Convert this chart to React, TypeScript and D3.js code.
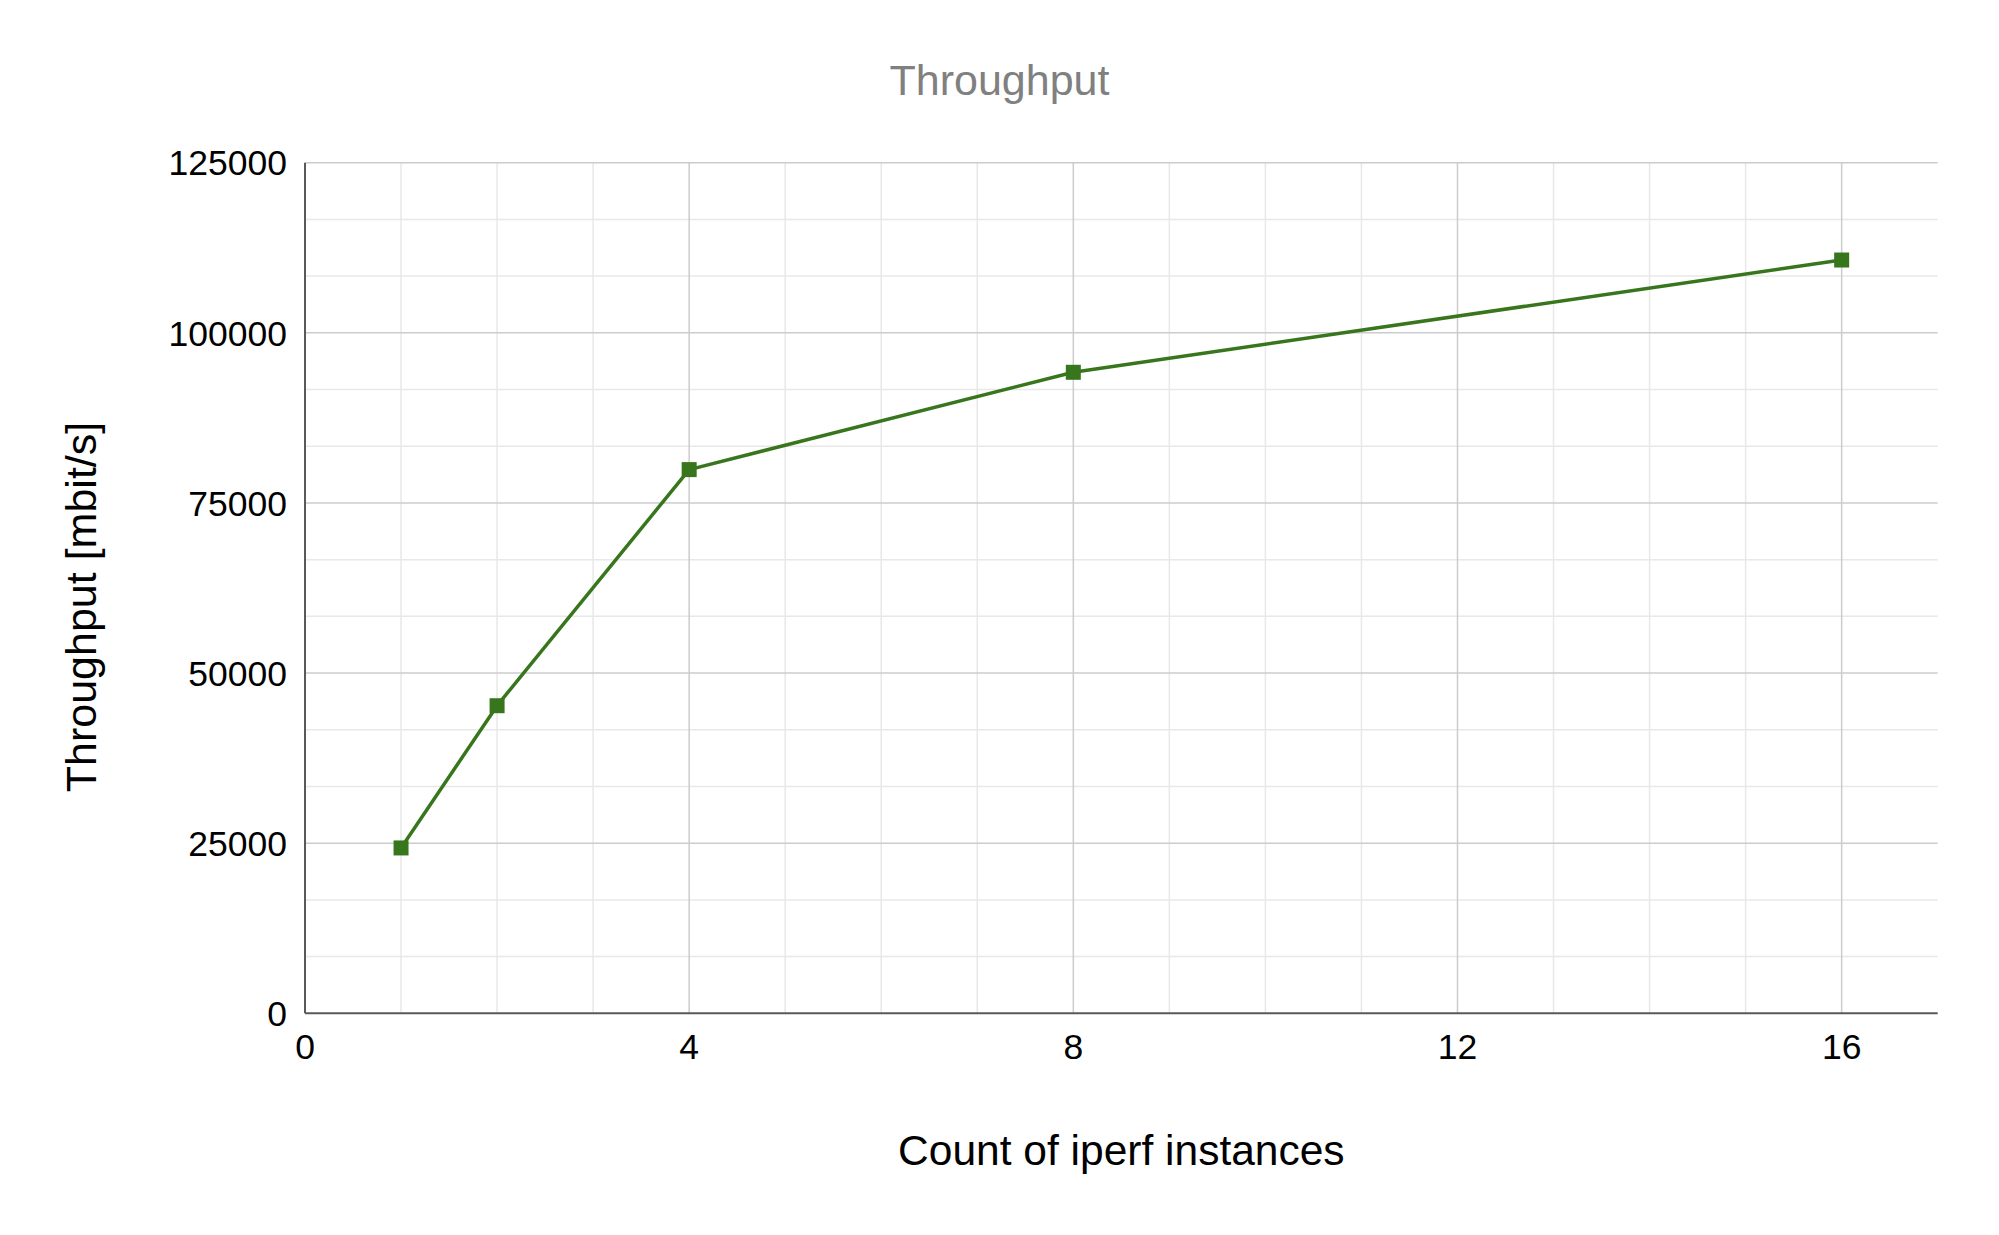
import * as React from "react";
import * as d3 from "d3";

const instances = [1, 2, 4, 8, 16];
const throughput = [24300, 45200, 79900, 94200, 110700];
const xTicks = [0, 4, 8, 12, 16];
const yTicks = [0, 25000, 50000, 75000, 100000, 125000];

const W = 1999;
const H = 1235;
const font = '"Liberation Sans", Arial, sans-serif';
const green = "#38761d";

export default function App() {
  const x = d3.scaleLinear().domain([0, 17]).range([305, 1937.7]);
  const y = d3.scaleLinear().domain([0, 125000]).range([1013.3, 162.7]);

  const xMinor = d3.range(1, 17).filter((v) => v % 4 !== 0);
  const yMinor = d3
    .range(0, 15)
    .map((i) => (i * 25000) / 3)
    .filter((_, i) => i % 3 !== 0);

  const line = d3
    .line<number>()
    .x((_, i) => x(instances[i]))
    .y((d) => y(d));

  const [x0, x1] = x.range();
  const [y0, y1] = y.range();
  const m = 15;

  return (
    <svg
      width={W}
      height={H}
      style={{ position: "absolute", left: 0, top: 0, background: "#fff" }}
    >
      {/* minor grid */}
      <g stroke="#e8e8e8" strokeWidth={1.5}>
        {xMinor.map((v) => (
          <line key={"xm" + v} x1={x(v)} x2={x(v)} y1={y1} y2={y0} />
        ))}
        {yMinor.map((v) => (
          <line key={"ym" + v} x1={x0} x2={x1} y1={y(v)} y2={y(v)} />
        ))}
      </g>
      {/* major grid */}
      <g stroke="#cccccc" strokeWidth={1.5}>
        {xTicks.slice(1).map((v) => (
          <line key={"xM" + v} x1={x(v)} x2={x(v)} y1={y1} y2={y0} />
        ))}
        {yTicks.slice(1).map((v) => (
          <line key={"yM" + v} x1={x0} x2={x1} y1={y(v)} y2={y(v)} />
        ))}
      </g>
      {/* axes */}
      <g stroke="#595959" strokeWidth={2}>
        <line x1={x0} x2={x0} y1={y1} y2={y0} />
        <line x1={x0} x2={x1} y1={y0} y2={y0} />
      </g>

      {/* tick labels */}
      <g fontFamily={font} fontSize={35.5} fill="#000">
        {yTicks.map((v) => (
          <text key={"yl" + v} x={287} y={y(v)} dy="0.36em" textAnchor="end">
            {v}
          </text>
        ))}
        {xTicks.map((v) => (
          <text key={"xl" + v} x={x(v)} y={1059} textAnchor="middle">
            {v}
          </text>
        ))}
      </g>

      {/* series */}
      <path
        d={line(throughput) || ""}
        fill="none"
        stroke={green}
        strokeWidth={3.5}
        strokeLinejoin="round"
      />
      {throughput.map((v, i) => (
        <rect
          key={"pt" + i}
          x={x(instances[i]) - m / 2}
          y={y(v) - m / 2}
          width={m}
          height={m}
          fill={green}
        />
      ))}

      {/* titles */}
      <text
        x={W / 2}
        y={95}
        textAnchor="middle"
        fontFamily={font}
        fontSize={43}
        fill="#808080"
      >
        Throughput
      </text>
      <text
        x={(x0 + x1) / 2}
        y={1165}
        textAnchor="middle"
        fontFamily={font}
        fontSize={42.5}
        fill="#000"
      >
        Count of iperf instances
      </text>
      <text
        transform="translate(96, 607) rotate(-90)"
        textAnchor="middle"
        fontFamily={font}
        fontSize={43}
        fill="#000"
      >
        Throughput [mbit/s]
      </text>
    </svg>
  );
}
